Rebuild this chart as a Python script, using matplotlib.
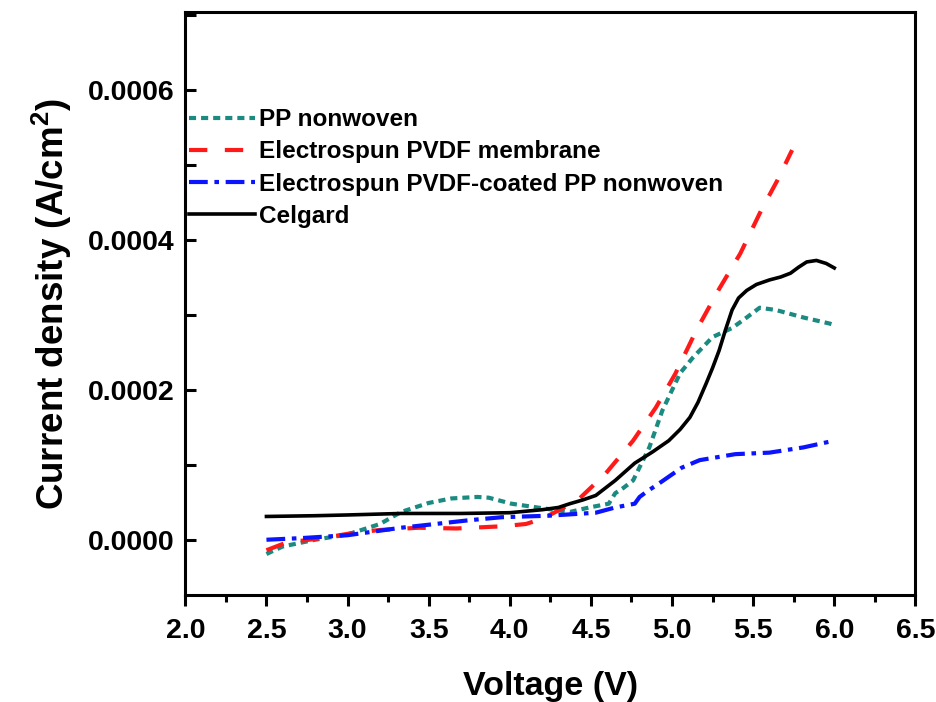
import matplotlib
matplotlib.use("Agg")
import matplotlib.pyplot as plt
from matplotlib.ticker import MultipleLocator

plt.rcParams['font.family'] = ['Liberation Sans', 'DejaVu Sans']
plt.rcParams['font.weight'] = 'bold'
plt.rcParams['mathtext.fontset'] = 'custom'
plt.rcParams['mathtext.rm'] = 'Liberation Sans:bold'
plt.rcParams['mathtext.default'] = 'rm'

# PP nonwoven
pp_v = [2.50, 2.60, 2.80, 3.00, 3.20, 3.33, 3.50, 3.64, 3.80, 3.87, 4.01, 4.20, 4.37,
        4.49, 4.61, 4.65, 4.70, 4.76, 4.86, 4.94, 5.05, 5.13, 5.25, 5.37, 5.46, 5.54,
        5.64, 5.81, 5.97, 6.00]
pp_j = [-0.000018, -0.000008, 0.000001, 0.000008, 0.000022, 0.000038, 0.000050, 0.000056,
        0.000058, 0.000057, 0.000049, 0.000043, 0.000038, 0.000044, 0.000049, 0.000063,
        0.000070, 0.000080, 0.000124, 0.000173, 0.000223, 0.000244, 0.000271, 0.000283,
        0.000297, 0.000310, 0.000307, 0.000297, 0.000289, 0.000287]

# electrospun PVDF membrane
pvdf_v = [2.50, 2.62, 2.87, 3.03, 3.20, 3.44, 3.67, 3.96, 4.10, 4.20, 4.30, 4.43, 4.59,
          4.76, 4.90, 5.02, 5.15, 5.29, 5.42, 5.55, 5.65, 5.74]
pvdf_j = [-0.000013, -0.000003, 0.000004, 0.000010, 0.000014, 0.000017, 0.000016, 0.000019,
          0.000022, 0.000029, 0.000040, 0.000056, 0.000089, 0.000133, 0.000177, 0.000222,
          0.000280, 0.000335, 0.000382, 0.000440, 0.000480, 0.000520]

# electrospun PVDF-coated PP nonwoven
coat_v = [2.50, 2.70, 3.00, 3.33, 3.50, 3.75, 3.95, 4.24, 4.53, 4.65, 4.77, 4.80, 4.85,
          4.92, 5.00, 5.06, 5.17, 5.39, 5.60, 5.81, 6.00]
coat_j = [0.000001, 0.000003, 0.000007, 0.000017, 0.000021, 0.000027, 0.000031, 0.000033,
          0.000037, 0.000044, 0.000049, 0.000058, 0.000066, 0.000076, 0.000088, 0.000097,
          0.000107, 0.000115, 0.000117, 0.000124, 0.000133]

# Celgard
cel_v = [2.50, 2.80, 3.00, 3.33, 3.70, 4.00, 4.20, 4.30, 4.37, 4.45, 4.53, 4.65, 4.77,
         4.88, 4.98, 5.05, 5.11, 5.16, 5.21, 5.25, 5.29, 5.33, 5.37, 5.41, 5.46, 5.52,
         5.60, 5.67, 5.73, 5.78, 5.83, 5.89, 5.95, 6.00]
cel_j = [0.000032, 0.000033, 0.000034, 0.000036, 0.000036, 0.000037, 0.000041, 0.000044,
         0.000049, 0.000054, 0.000060, 0.000080, 0.000103, 0.000118, 0.000133, 0.000148,
         0.000164, 0.000184, 0.000209, 0.000230, 0.000253, 0.000281, 0.000307, 0.000323,
         0.000333, 0.000341, 0.000347, 0.000351, 0.000356, 0.000364, 0.000371, 0.000373,
         0.000369, 0.000363]

fig = plt.figure(figsize=(9.36, 7.02), dpi=100)
ax = fig.add_axes([0.198, 0.152, 0.780, 0.831])

ax.plot(pp_v, pp_j, color='#1b8a80', lw=3, dashes=(1.7, 1.2), label='PP nonwoven')
ax.plot(pvdf_v, pvdf_j, color='#ff1a1a', lw=3, dashes=(4.4, 4.2), label='Electrospun PVDF membrane')
ax.plot(coat_v, coat_j, color='#0a14ff', lw=3, dashes=(4.5, 1.6, 1.1, 1.6),
        label='Electrospun PVDF-coated PP nonwoven')
ax.plot(cel_v, cel_j, color='black', lw=2.6, label='Celgard')

ax.set_xlim(2.0, 6.5)
ax.set_ylim(-0.000073, 0.000704)
ax.xaxis.set_major_locator(MultipleLocator(0.5))
ax.xaxis.set_minor_locator(MultipleLocator(0.25))
ax.yaxis.set_major_locator(MultipleLocator(0.0002))
ax.yaxis.set_minor_locator(MultipleLocator(0.0001))
ax.xaxis.set_major_formatter(plt.FormatStrFormatter('%.1f'))
ax.yaxis.set_major_formatter(plt.FormatStrFormatter('%.4f'))

ax.tick_params(axis='x', which='major', direction='out', length=8, width=2.2, labelsize=20.5, pad=8)
ax.tick_params(axis='x', which='minor', direction='out', length=5, width=2.2)
ax.tick_params(axis='y', which='major', direction='in', length=8, width=2.2, labelsize=20.5, pad=8)
ax.tick_params(axis='y', which='minor', direction='in', length=8, width=2.2)
for s in ax.spines.values():
    s.set_linewidth(2.2)

ax.set_xlabel('Voltage (V)', fontsize=24.5, fontweight='bold', labelpad=20)
ax.set_ylabel(r'Current density (A/cm$^{2}$)', fontsize=26.5, fontweight='bold', labelpad=10)

ax.legend(loc='upper left', bbox_to_anchor=(0.005, 0.835), frameon=False, fontsize=17.5,
          handlelength=2.7, handletextpad=0.2, labelspacing=0.38, borderpad=0, borderaxespad=0)

fig.savefig('out.png', dpi=100)
